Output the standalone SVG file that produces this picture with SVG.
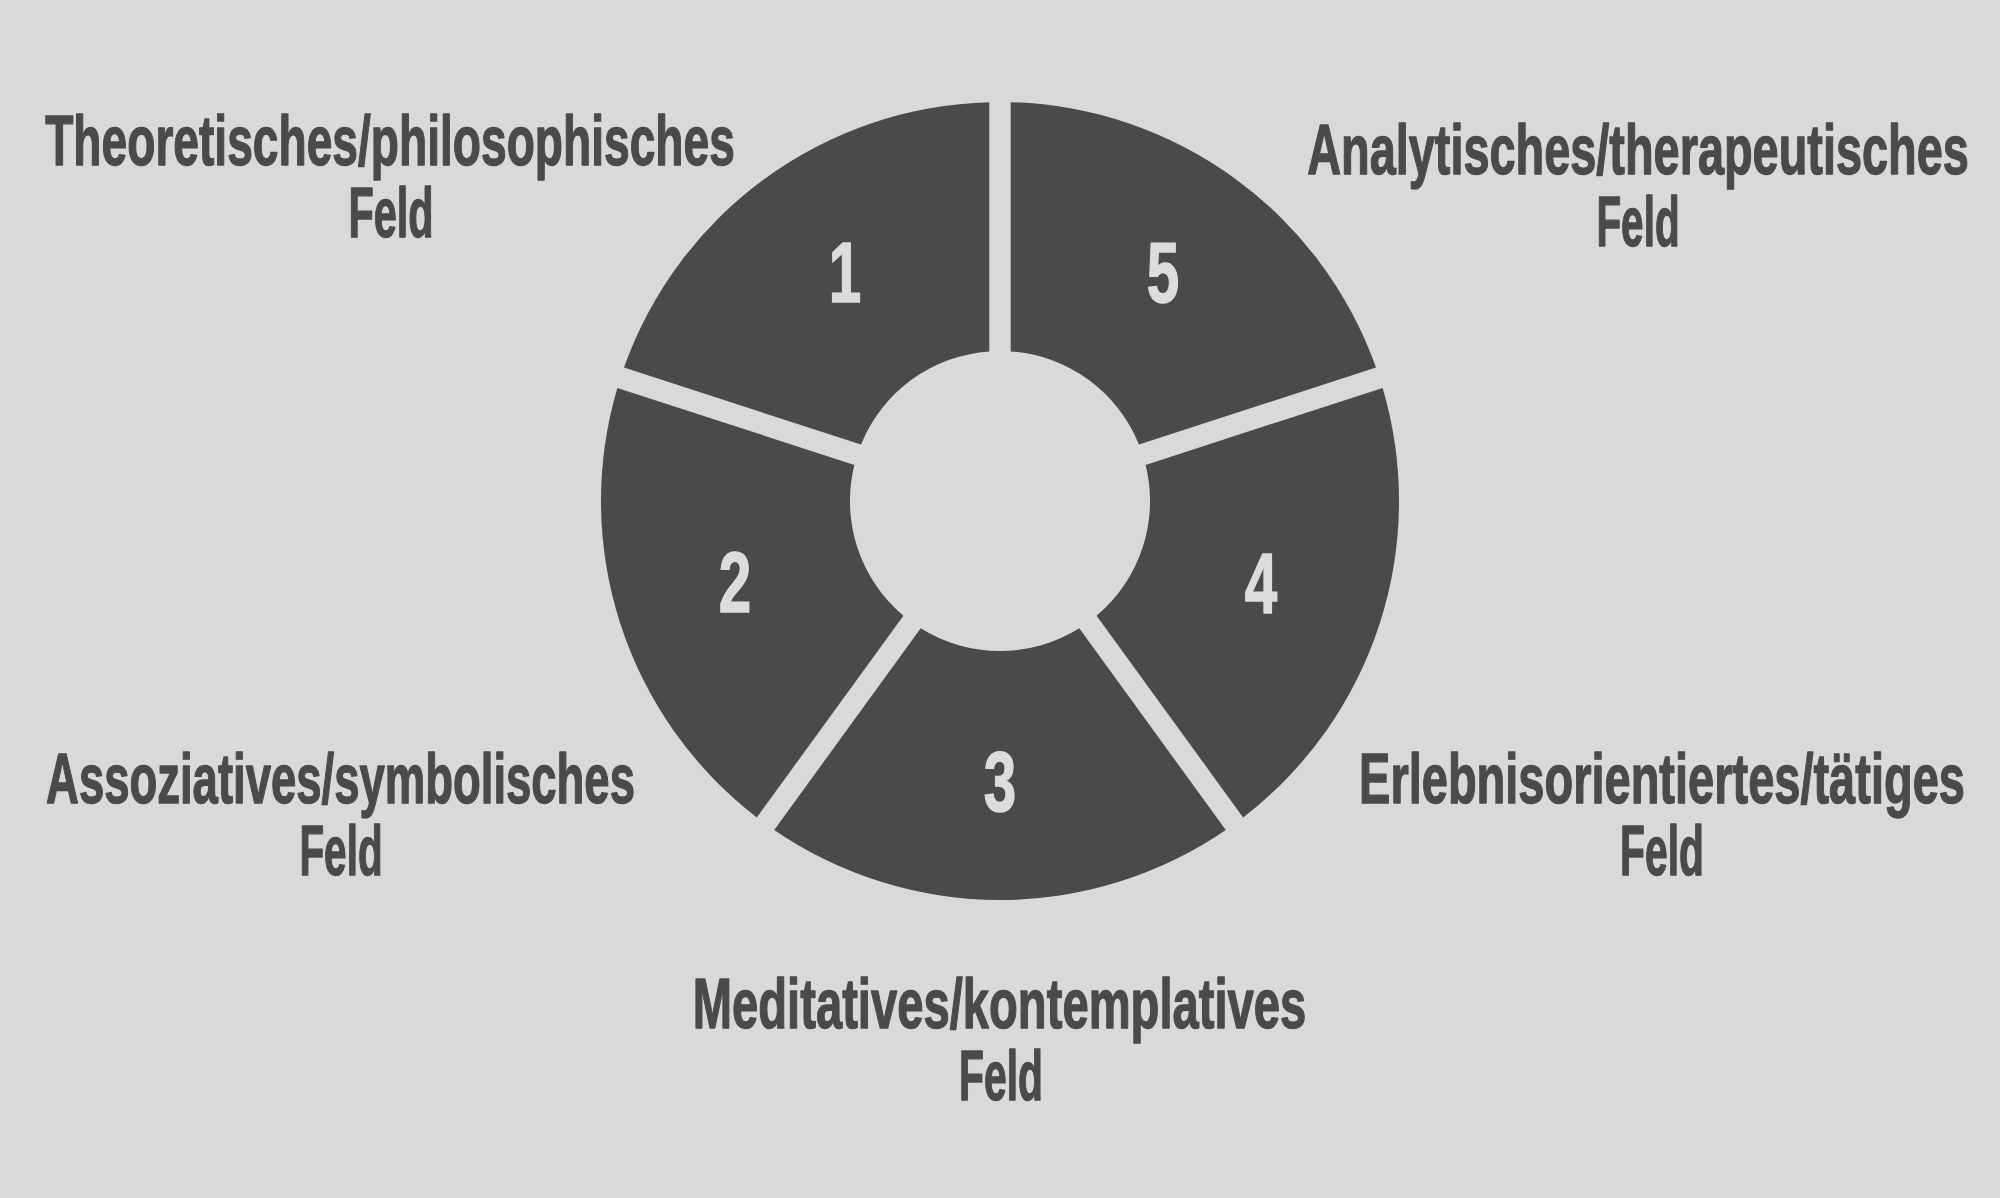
<svg xmlns="http://www.w3.org/2000/svg" width="2000" height="1198" viewBox="0 0 2000 1198">
<style>
.bg{fill:#d9d9d9}
.seg{fill:#4a4a4a}
.num{font-family:"Liberation Sans",Arial,sans-serif;font-weight:700;font-size:86px;fill:#dcdcdc;stroke:#dcdcdc;stroke-width:1.5;text-anchor:middle}
.lbl{font-family:"Liberation Sans",Arial,sans-serif;font-weight:700;font-size:71px;fill:#4a4a4a;stroke:#4a4a4a;stroke-width:1.4;stroke-linejoin:round;text-anchor:middle}
</style>
<rect class="bg" x="0" y="0" width="2000" height="1198"/>
<g id="field-5">
<path class="seg" d="M1010.7,102.14 A398.86,398.86 0 0 1 1376.03,367.57 L1138.99,444.59 A149.62,149.62 0 0 0 1010.7,351.38 Z"/>
<text class="num" transform="translate(1163,302) scale(0.68,1)">5</text>
<text class="lbl" transform="translate(1638,174) scale(0.65,1)" textLength="1018" lengthAdjust="spacingAndGlyphs">Analytisches/therapeutisches</text>
<text class="lbl" transform="translate(1638,246) scale(0.65,1)" textLength="128" lengthAdjust="spacingAndGlyphs">Feld</text>
</g>
<g id="field-4">
<path class="seg" d="M1382.64,387.92 A398.86,398.86 0 0 1 1243.10,817.39 L1096.60,615.75 A149.62,149.62 0 0 0 1145.60,464.94 Z"/>
<text class="num" transform="translate(1261,613) scale(0.68,1)">4</text>
<text class="lbl" transform="translate(1662,803) scale(0.65,1)" textLength="932" lengthAdjust="spacingAndGlyphs">Erlebnisorientiertes/tätiges</text>
<text class="lbl" transform="translate(1662,875) scale(0.65,1)" textLength="129" lengthAdjust="spacingAndGlyphs">Feld</text>
</g>
<g id="field-3">
<path class="seg" d="M1225.79,829.97 A398.86,398.86 0 0 1 774.21,829.97 L920.71,628.33 A149.62,149.62 0 0 0 1079.29,628.33 Z"/>
<text class="num" transform="translate(1000,811) scale(0.68,1)">3</text>
<text class="lbl" transform="translate(999.5,1028) scale(0.65,1)" textLength="944" lengthAdjust="spacingAndGlyphs">Meditatives/kontemplatives</text>
<text class="lbl" transform="translate(1001,1100) scale(0.65,1)" textLength="129" lengthAdjust="spacingAndGlyphs">Feld</text>
</g>
<g id="field-2">
<path class="seg" d="M756.90,817.39 A398.86,398.86 0 0 1 617.36,387.92 L854.40,464.94 A149.62,149.62 0 0 0 903.40,615.75 Z"/>
<text class="num" transform="translate(735,612) scale(0.68,1)">2</text>
<text class="lbl" transform="translate(340.5,803) scale(0.65,1)" textLength="906" lengthAdjust="spacingAndGlyphs">Assoziatives/symbolisches</text>
<text class="lbl" transform="translate(341,875) scale(0.65,1)" textLength="128" lengthAdjust="spacingAndGlyphs">Feld</text>
</g>
<g id="field-1">
<path class="seg" d="M623.97,367.57 A398.86,398.86 0 0 1 989.3,102.14 L989.3,351.38 A149.62,149.62 0 0 0 861.01,444.59 Z"/>
<text class="num" transform="translate(845,302) scale(0.68,1)">1</text>
<text class="lbl" transform="translate(390,165) scale(0.65,1)" textLength="1061" lengthAdjust="spacingAndGlyphs">Theoretisches/philosophisches</text>
<text class="lbl" transform="translate(391,237) scale(0.65,1)" textLength="131" lengthAdjust="spacingAndGlyphs">Feld</text>
</g>
</svg>
